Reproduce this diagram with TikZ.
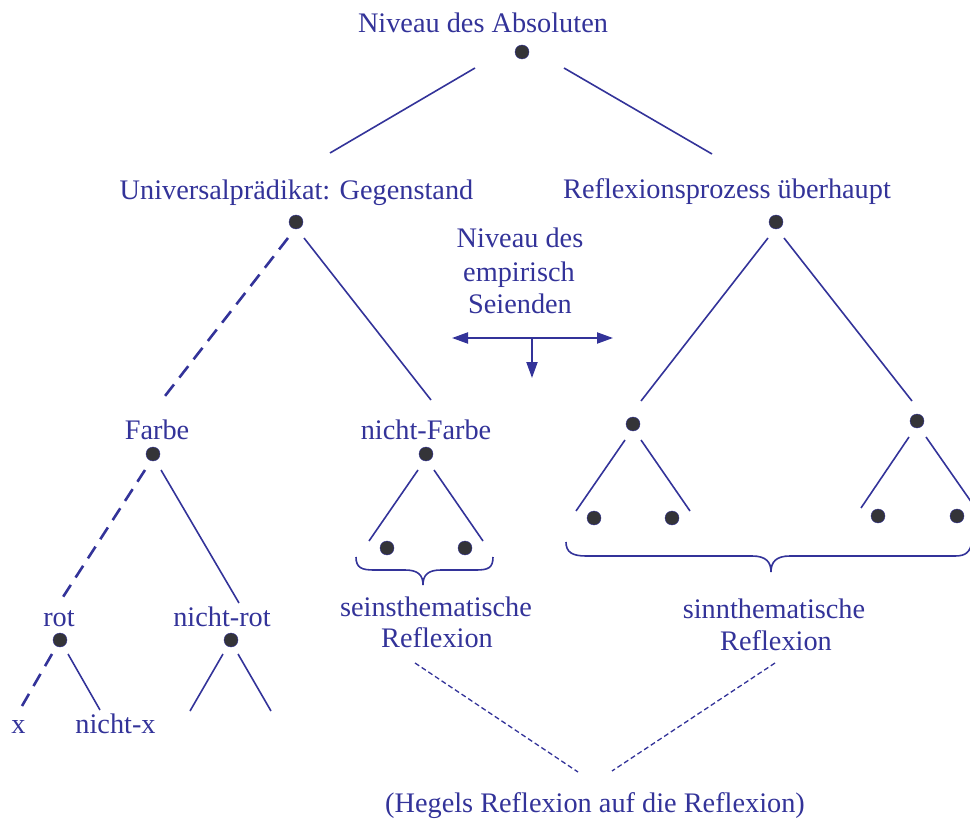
\documentclass[tikz,border=0pt]{standalone}
\usepackage{fontspec}
\setmainfont{Liberation Serif}
\usetikzlibrary{arrows.meta}
\definecolor{dblue}{RGB}{51,51,153}
\definecolor{dotgray}{RGB}{52,52,56}
\begin{document}
\begin{tikzpicture}[x=1pt,y=-1pt,
  lbl/.style={text=dblue,font=\fontsize{28.3}{32}\selectfont,inner sep=0pt,anchor=base},
  dotnode/.style={circle,fill=dotgray,draw=dblue,line width=0.4pt,minimum size=14pt,inner sep=0pt},
  edge/.style={draw=dblue,line width=1.6pt},
  dashedge/.style 2 args={draw=dblue,line width=2.6pt,dash pattern=on #1 off #2},
  thindash/.style={draw=dblue,line width=1.3pt,dash pattern=on 5pt off 3pt},
  bracepath/.style={draw=dblue,line width=1.6pt},
  arrowline/.style={draw=dblue,line width=2pt,-{Triangle[length=16pt,width=11pt]}}]
\useasboundingbox (0,0) rectangle (970,821);

% labels
\node[lbl] (abs) at (483,33) {Niveau des Absoluten};
\node[lbl] (univ) at (296.5,200) {Universalprädikat: Gegenstand};
\node[lbl] (refl) at (727,199) {Reflexionsprozess überhaupt};
\node[lbl] (emp1) at (520,248) {Niveau des};
\node[lbl] (emp2) at (519,282) {empirisch};
\node[lbl] (emp3) at (520,313) {Seienden};
\node[lbl] (farbe) at (157,439) {Farbe};
\node[lbl] (nfarbe) at (426,439) {nicht-Farbe};
\node[lbl] (rot) at (59,626) {rot};
\node[lbl] (nrot) at (222,626) {nicht-rot};
\node[lbl] (x) at (18.5,733) {x};
\node[lbl] (nx) at (115.5,733) {nicht-x};
\node[lbl] (sein1) at (436,616) {seinsthematische};
\node[lbl] (sein2) at (437,647) {Reflexion};
\node[lbl] (sinn1) at (774,618) {sinnthematische};
\node[lbl] (sinn2) at (776,650) {Reflexion};
\node[lbl] (hegel) at (595,812) {(Hegels Reflexion auf die Reflexion)};

% dots
\node[dotnode] (d0) at (522,52) {};
\node[dotnode] (dU) at (296,222) {};
\node[dotnode] (dR) at (776,222) {};
\node[dotnode] (dF) at (153,454) {};
\node[dotnode] (dNF) at (426,454) {};
\node[dotnode] (dNF1) at (387,548) {};
\node[dotnode] (dNF2) at (465,548) {};
\node[dotnode] (dRot) at (60,640) {};
\node[dotnode] (dNRot) at (231,640) {};
\node[dotnode] (dR1) at (633,424) {};
\node[dotnode] (dR2) at (917,421) {};
\node[dotnode] (dR11) at (594,518) {};
\node[dotnode] (dR12) at (672,518) {};
\node[dotnode] (dR21) at (878,516) {};
\node[dotnode] (dR22) at (957,516) {};

% line end points
\coordinate (a1) at (475,68);  \coordinate (a2) at (330,153);
\coordinate (a3) at (564,68);  \coordinate (a4) at (712,154);
\coordinate (u1) at (288,238); \coordinate (u2) at (165,396);
\coordinate (u3) at (304,238); \coordinate (u4) at (431,400);
\coordinate (r1) at (768,238); \coordinate (r2) at (641,401);
\coordinate (r3) at (784,238); \coordinate (r4) at (912,401);
\coordinate (f1) at (145,470); \coordinate (f2) at (63,597);
\coordinate (f3) at (161,470); \coordinate (f4) at (239,603);
\coordinate (n1) at (418,470); \coordinate (n2) at (369,541);
\coordinate (n3) at (434,470); \coordinate (n4) at (483,541);
\coordinate (o1) at (52,654);  \coordinate (o2) at (22,706);
\coordinate (o3) at (68,654);  \coordinate (o4) at (100,710);
\coordinate (p1) at (223,654); \coordinate (p2) at (190,711);
\coordinate (p3) at (238,654); \coordinate (p4) at (271,711);
\coordinate (s1) at (625,440); \coordinate (s2) at (576,511);
\coordinate (s3) at (641,440); \coordinate (s4) at (690,511);
\coordinate (t1) at (909,437); \coordinate (t2) at (861,508);
\coordinate (t3) at (926,437); \coordinate (t4) at (972,503);
\coordinate (h1) at (415,663); \coordinate (h2) at (578,772);
\coordinate (h3) at (775,663); \coordinate (h4) at (612,771);
\coordinate (arL) at (452,338); \coordinate (arR) at (613,338);
\coordinate (arM) at (532,338); \coordinate (arD) at (532,378);

% connectors
\draw[edge] (a1) -- (a2);
\draw[edge] (a3) -- (a4);
\draw[dashedge={14.5pt}{8.7pt}] (u1) -- (u2);
\draw[edge] (u3) -- (u4);
\draw[edge] (r1) -- (r2);
\draw[edge] (r3) -- (r4);
\draw[dashedge={14pt}{8.8pt}] (f1) -- (f2);
\draw[edge] (f3) -- (f4);
\draw[edge] (n1) -- (n2);
\draw[edge] (n3) -- (n4);
\draw[dashedge={14pt}{9pt}] (o1) -- (o2);
\draw[edge] (o3) -- (o4);
\draw[edge] (p1) -- (p2);
\draw[edge] (p3) -- (p4);
\draw[edge] (s1) -- (s2);
\draw[edge] (s3) -- (s4);
\draw[edge] (t1) -- (t2);
\draw[edge] (t3) -- (t4);
\draw[thindash] (h1) -- (h2);
\draw[thindash] (h3) -- (h4);

% arrows
\draw[arrowline] (arM) -- (arL);
\draw[arrowline] (arM) -- (arR);
\draw[arrowline] (arM) -- (arD);

% braces
\coordinate (b1) at (356,557); \coordinate (bt) at (423,585); \coordinate (b2) at (493,557);
\draw[bracepath] (b1) .. controls (356,568) and (362,570) .. (374,570)
  -- (405,570) .. controls (418,570) and (423,575) .. (bt)
  .. controls (423,575) and (428,570) .. (441,570)
  -- (476,570) .. controls (488,570) and (493,568) .. (b2);
\coordinate (c1) at (566,542); \coordinate (ct) at (771,572); \coordinate (c2) at (972,542);
\draw[bracepath] (c1) .. controls (566,552) and (572,556) .. (586,556)
  -- (752,556) .. controls (766,556) and (771,562) .. (ct)
  .. controls (771,562) and (776,556) .. (790,556)
  -- (955,556) .. controls (966,556) and (970,552) .. (c2);
\end{tikzpicture}
\end{document}
